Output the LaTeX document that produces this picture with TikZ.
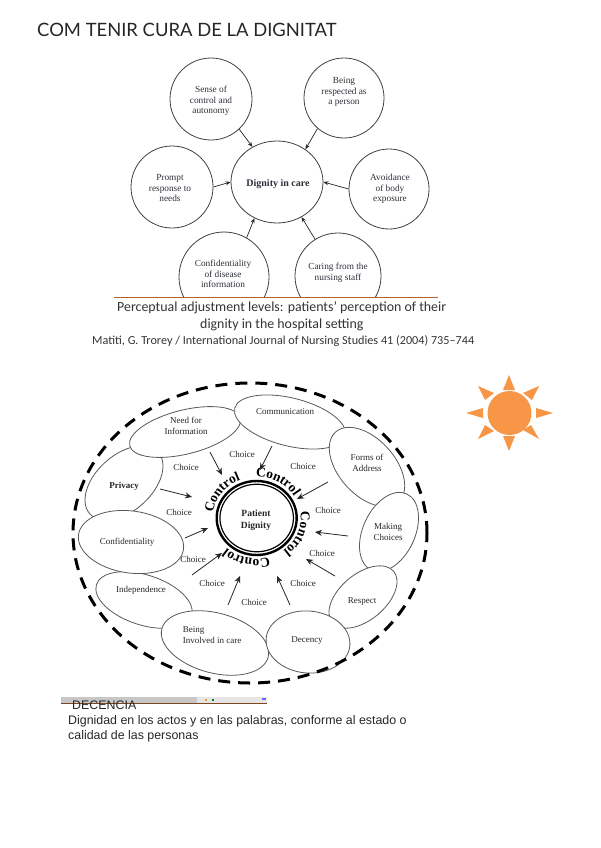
\documentclass[tikz,border=0pt]{standalone}
\usepackage{fontspec}
\setmainfont{Liberation Serif}
\newfontfamily\titlefont{Lato}
\newfontfamily\capfont{Carlito}
\newfontfamily\bodyfont{Liberation Sans}
\usetikzlibrary{shapes.geometric,arrows.meta,decorations.text}
\definecolor{sunor}{HTML}{F79646}
\definecolor{rulebr}{HTML}{B5622A}
\definecolor{inkb}{HTML}{2B2F38}
\newcommand{\ctlfont}{\fontsize{13.5}{14}\selectfont\bfseries}
\tikzset{
  bub/.style={circle,draw=black!75,line width=.8pt,minimum size=#1,inner sep=0pt},
  txta/.style={font=\fontsize{9.3}{10.6}\selectfont,text=inkb,align=center,inner sep=0pt},
  arra/.style={-{Stealth[length=5pt,width=4pt]},line width=.7pt,draw=black!85},
  oval/.style={ellipse,draw=black!65,fill=white,line width=.8pt,inner sep=0pt},
  txtb/.style={font=\fontsize{9}{11}\selectfont,text=black!85,align=center,inner sep=0pt},
  arrb/.style={-{Stealth[length=7pt,width=6pt]},line width=.8pt,draw=black!85},
  ctlpath/.style={decorate,decoration={text along path,text={|\ctlfont|Control},text align=center}},
  ray/.style={fill=sunor,draw=none},
}
\begin{document}
\begin{tikzpicture}[x=1pt,y=-1pt]
\useasboundingbox (0,0) rectangle (600,848);
\node[anchor=west,inner sep=0pt,font=\titlefont\fontsize{18.4}{20}\selectfont,text=black!85] (title) at (37,30) {COM TENIR CURA DE LA DIGNITAT};

% --- first diagram
\begin{scope}
\clip (100,50) rectangle (460,296.5);
\node[bub=82pt] (sense) at (211,99) {};
\node[bub=80pt] (being) at (344,98) {};
\node[ellipse,draw=black!75,line width=.8pt,minimum width=92pt,minimum height=82pt,inner sep=0pt] (dignity) at (277,182) {};
\node[bub=82pt] (prompt) at (172,187) {};
\node[bub=80pt] (avoid) at (389,189) {};
\node[bub=90pt] (conf) at (224,277) {};
\node[bub=86pt] (caring) at (338,276) {};
\end{scope}
\node[txta] (lsense) at (211,101) {Sense of\\control and\\autonomy};
\node[txta] (lbeing) at (344,92) {Being\\respected as\\a person};
\node[txta] (lprompt) at (170,188) {Prompt\\response to\\needs};
\node[txta,font=\fontsize{10}{11}\selectfont\bfseries] (ldignity) at (278,184) {Dignity in care};
\node[txta] (lavoid) at (390,189) {Avoidance\\of body\\exposure};
\node[txta] (lconf) at (223,274) {Confidentiality\\of disease\\information};
\node[txta] (lcaring) at (338,273) {Caring from the\\nursing staff};
\draw[arra] (sense.-47) -- (dignity.125);
\draw[arra] (being.-131) -- (dignity.49);
\draw[arra] (prompt.east) -- (dignity.west);
\draw[arra] (avoid.west) -- (dignity.east);
\draw[arra] (conf.60) -- (dignity.-122);
\draw[arra] (caring.122) -- (dignity.-55);
\coordinate (rulea) at (114,297);
\coordinate (ruleb) at (438,297);
\draw[rulebr,line width=.9pt] (rulea) -- (ruleb);
\node[anchor=west,inner sep=0pt,font=\capfont\fontsize{13.9}{14}\selectfont,text=black!80] (cap1) at (117,308) {Perceptual adjustment levels: patients’ perception of their};
\node[anchor=west,inner sep=0pt,font=\capfont\fontsize{13.9}{14}\selectfont,text=black!80] (cap2) at (200,325) {dignity in the hospital setting};
\node[anchor=west,inner sep=0pt,font=\capfont\fontsize{12.2}{14}\selectfont,text=black!80] (cap3) at (92,341) {Matiti, G. Trorey / International Journal of Nursing Studies 41 (2004) 735–744};

% --- sun
\fill[sunor] (509.5,413) circle (22);
\fill[ray] (509,375) -- (503,390) -- (515,390) -- cycle;
\fill[ray] (509,451) -- (503,436) -- (515,436) -- cycle;
\fill[ray] (553,413) -- (536,408) -- (536,418) -- cycle;
\fill[ray] (466,413) -- (483,408) -- (483,418) -- cycle;
\fill[ray] (539,386) -- (523,393) -- (532,400) -- cycle;
\fill[ray] (539,439) -- (523,430) -- (531,425) -- cycle;
\fill[ray] (478,386) -- (494,393) -- (485,400) -- cycle;
\fill[ray] (478,439) -- (485,425) -- (494,431) -- cycle;

% --- second diagram
\node[oval,rotate=42,minimum width=92pt,minimum height=56pt] (privacy) at (124,483) {};
\node[oval,rotate=14,minimum width=114pt,minimum height=44pt] (need) at (185,432) {};
\node[oval,rotate=-14,minimum width=114pt,minimum height=48pt] (comm) at (290,422) {};
\node[oval,rotate=-48,minimum width=94pt,minimum height=56pt] (forms) at (367,467) {};
\node[oval,rotate=65,minimum width=84pt,minimum height=52pt] (making) at (389,532) {};
\node[oval,rotate=40,minimum width=80pt,minimum height=46pt] (respect) at (363,597) {};
\node[oval,rotate=-18,minimum width=100pt,minimum height=50pt] (indep) at (144,600) {};
\node[oval,rotate=-8,minimum width=106pt,minimum height=62pt] (confid) at (131,542) {};
\node[oval,rotate=-15,minimum width=110pt,minimum height=60pt] (involved) at (215,643) {};
\node[oval,rotate=-5,minimum width=84pt,minimum height=62pt] (decency) at (308,642) {};
\node[ellipse,draw=black,line width=3pt,dash pattern=on 12pt off 8pt,minimum width=354pt,minimum height=300pt,inner sep=0pt] (outer) at (250,533) {};
\node[txtb] (lneed) at (186,426) {Need for\\Information};
\node[txtb] (lcomm) at (285,412) {Communication};
\node[txtb] (lforms) at (367,463) {Forms of\\Address};
\node[txtb] (lmaking) at (388,532) {Making\\Choices};
\node[txtb] (lrespect) at (362,602) {Respect};
\node[txtb] (ldecency) at (307,641) {Decency};
\node[txtb,align=left] (linvolved) at (212,635) {Being\\Involved in care};
\node[txtb] (lindep) at (141,590) {Independence};
\node[txtb] (lconfid) at (127,542) {Confidentiality};
\node[txtb,font=\fontsize{9}{11}\selectfont\bfseries] (lprivacy) at (124,486) {Privacy};
\node[ellipse,draw=black,line width=2.4pt,minimum width=80pt,minimum height=74pt,inner sep=0pt] (patient) at (256.7,518) {};
\node[ellipse,draw=black,line width=1.2pt,minimum width=73.5pt,minimum height=67.5pt,inner sep=0pt] (patientin) at (256.7,518) {};
\node[txtb,font=\fontsize{9.5}{12}\selectfont\bfseries] (lpatient) at (256,520) {Patient\\Dignity};
\path[ctlpath] plot[samples=40,domain=185:100] ({256.7+44*cos(\x)},{518-41*sin(\x)});
\path[ctlpath] plot[samples=40,domain=103:19] ({256.7+44*cos(\x)},{518-41*sin(\x)});
\path[ctlpath] plot[samples=40,domain=20:-64] ({256.7+44*cos(\x)},{518-41*sin(\x)});
\path[ctlpath] plot[samples=40,domain=-61:-146] ({256.7+44*cos(\x)},{518-41*sin(\x)});
\foreach \n/\sx/\sy/\tx/\ty in {
  1/210/452/222/475, 2/272/446/260/470, 3/328/482/297/499, 4/348/536/315/532,
  5/335/576/306/559, 6/290/605/277/576, 7/228/605/240/576, 8/192/575/222/553,
  9/185/538/208/528, 10/160/489/192/497}{
  \coordinate (s\n) at (\sx,\sy);
  \coordinate (t\n) at (\tx,\ty);
  \draw[arrb] (s\n) -- (t\n);
}
\foreach \n/\x/\y in {1/186/467,2/242/454,3/179/512,4/193/559,5/212/583,6/254/602,7/303/466,8/328/510,9/322/553,10/303/583}{
  \node[txtb] (ch\n) at (\x,\y) {Choice};
}

% --- bottom strip and text
\fill[black!22] (61,697) rectangle (197,703);
\fill[black!10] (197,697) rectangle (267,703);
\fill[sunor] (205,698.5) rectangle (207,700.5);
\fill[green!50!black] (212,698.5) rectangle (214,700.5);
\fill[blue!60] (262,698) rectangle (266,700);
\draw[rulebr!70!black,line width=.8pt] (61,703) -- (267,703);
\node[anchor=west,inner sep=0pt,font=\bodyfont\fontsize{12.4}{13}\selectfont,text=black!85] (dec) at (72,705.5) {DECENCIA};
\node[anchor=west,inner sep=0pt,font=\bodyfont\fontsize{12.4}{13}\selectfont,text=black!85] (def1) at (68,721) {Dignidad en los actos y en las palabras, conforme al estado o};
\node[anchor=west,inner sep=0pt,font=\bodyfont\fontsize{12.4}{13}\selectfont,text=black!85] (def2) at (68,736) {calidad de las personas};
\end{tikzpicture}
\end{document}
